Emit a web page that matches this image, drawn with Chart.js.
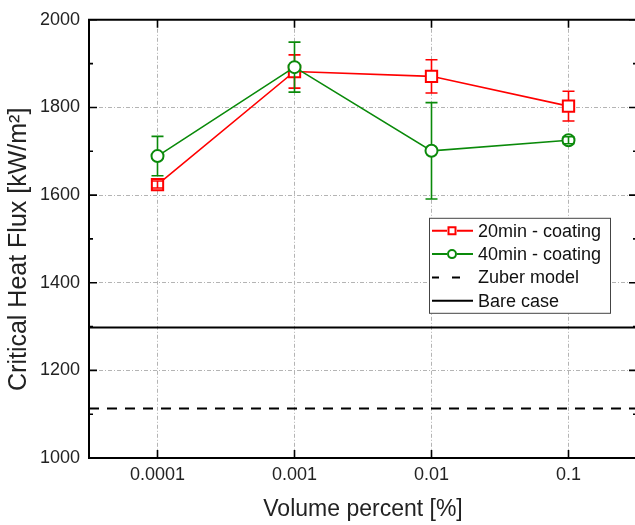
<!DOCTYPE html>
<html>
<head>
<meta charset="utf-8">
<script src="https://cdn.jsdelivr.net/npm/chart.js@4"></script>
<style>
  html, body { margin: 0; padding: 0; background: #fff; overflow: hidden; }
  #wrap { width: 640px; height: 525px; }
</style>
</head>
<body>
<div id="wrap"><canvas id="chf" width="640" height="525"></canvas></div>
<script>
// Volume percent [%] (categories, evenly spaced like a log axis)
const volumes = ['0.0001', '0.001', '0.01', '0.1'];

// Critical heat flux [kW/m2] and error half-widths
const chf20 = [1624, 1882, 1871, 1803];
const err20 = [8, 38, 38, 34];
const chf40 = [1689, 1892, 1701, 1725];
const err40 = [45, 57, 110, 8];

// Horizontal reference values
const zuberCHF = 1113;
const bareCHF = 1298;

const yTicks = [1000, 1200, 1400, 1600, 1800, 2000];
const legendLabels = ['20min - coating', '40min - coating', 'Zuber model', 'Bare case'];

const FONT = '"Liberation Sans", Arial, sans-serif';
const RED = '#ff0000';
const GREEN = '#0a8a0a';

// error bars, drawn right after each dataset
const errorBars = {
  id: 'errorBars',
  afterDatasetDraw(chart, args) {
    const ds = chart.data.datasets[args.index];
    const errs = ds.errs;
    if (!errs) return;
    const { ctx } = chart;
    const y = chart.scales.y;
    const r = ds.markHalf;
    ctx.save();
    ctx.strokeStyle = ds.borderColor;
    ctx.lineWidth = 1.6;
    args.meta.data.forEach((pt, i) => {
      const v = ds.data[i], e = errs[i];
      const yt = y.getPixelForValue(v + e);
      const yb = y.getPixelForValue(v - e);
      ctx.beginPath();
      if (pt.y - yt > r) {
        ctx.moveTo(pt.x, yt); ctx.lineTo(pt.x, pt.y - r);
        ctx.moveTo(pt.x, pt.y + r); ctx.lineTo(pt.x, yb);
      } else {
        ctx.moveTo(pt.x, yt); ctx.lineTo(pt.x, yb);
      }
      ctx.moveTo(pt.x - 6, yt); ctx.lineTo(pt.x + 6, yt);
      ctx.moveTo(pt.x - 6, yb); ctx.lineTo(pt.x + 6, yb);
      ctx.stroke();
    });
    ctx.restore();
  }
};

// Zuber and bare case lines across the whole plot
const refLines = {
  id: 'refLines',
  beforeDatasetsDraw(chart) {
    const { ctx, chartArea: a } = chart;
    const y = chart.scales.y;
    ctx.save();
    ctx.strokeStyle = '#000';
    ctx.lineWidth = 2;
    ctx.setLineDash([10, 8]);
    ctx.beginPath();
    ctx.moveTo(a.left, y.getPixelForValue(zuberCHF));
    ctx.lineTo(a.right, y.getPixelForValue(zuberCHF));
    ctx.stroke();
    ctx.setLineDash([]);
    ctx.beginPath();
    ctx.moveTo(a.left, y.getPixelForValue(bareCHF));
    ctx.lineTo(a.right, y.getPixelForValue(bareCHF));
    ctx.stroke();
    ctx.restore();
  }
};

// frame: top border + inward tick marks (Origin style)
const frame = {
  id: 'frame',
  afterDraw(chart) {
    const { ctx, chartArea: a } = chart;
    const x = chart.scales.x, y = chart.scales.y;
    ctx.save();
    ctx.strokeStyle = '#000';
    ctx.lineWidth = 2;
    ctx.beginPath();
    ctx.moveTo(a.left - 1, a.top); ctx.lineTo(a.right, a.top);
    ctx.stroke();
    ctx.lineWidth = 1.6;
    ctx.beginPath();
    yTicks.forEach((v, i) => {
      const py = y.getPixelForValue(v);
      ctx.moveTo(a.left, py); ctx.lineTo(a.left + 8, py);
      ctx.moveTo(a.right, py); ctx.lineTo(a.right - 8, py);
      if (i < yTicks.length - 1) {
        const pm = y.getPixelForValue(v + 100);
        ctx.moveTo(a.left, pm); ctx.lineTo(a.left + 4, pm);
        ctx.moveTo(a.right, pm); ctx.lineTo(a.right - 4, pm);
      }
    });
    volumes.forEach((_, i) => {
      const px = x.getPixelForValue(i);
      ctx.moveTo(px, a.bottom); ctx.lineTo(px, a.bottom - 8);
      ctx.moveTo(px, a.top); ctx.lineTo(px, a.top + 8);
    });
    ctx.stroke();
    ctx.restore();
  }
};

// boxed legend inside the plot
const boxLegend = {
  id: 'boxLegend',
  afterDraw(chart) {
    const { ctx, chartArea: a } = chart;
    const x0 = a.right - 208, y0 = a.top + 198, w = 181, h = 95;
    ctx.save();
    ctx.fillStyle = '#fff';
    ctx.fillRect(x0, y0, w, h);
    ctx.strokeStyle = '#444';
    ctx.lineWidth = 1;
    ctx.strokeRect(x0 + 0.5, y0 + 0.5, w, h);
    ctx.font = '18px ' + FONT;
    ctx.textBaseline = 'middle';
    legendLabels.forEach((lab, i) => {
      const ry = y0 + 13 + i * 23.3;
      const sx = x0 + 3, ex = x0 + 44, mx = x0 + 23;
      ctx.lineWidth = 2;
      if (i < 2) {
        ctx.strokeStyle = i === 0 ? RED : GREEN;
        ctx.beginPath();
        ctx.moveTo(sx, ry); ctx.lineTo(mx - 5, ry);
        ctx.moveTo(mx + 5, ry); ctx.lineTo(ex, ry);
        ctx.stroke();
        ctx.beginPath();
        if (i === 0) ctx.rect(mx - 3.5, ry - 3.5, 7, 7);
        else ctx.arc(mx, ry, 4, 0, Math.PI * 2);
        ctx.stroke();
      } else {
        ctx.strokeStyle = '#000';
        ctx.beginPath();
        if (i === 2) {
          ctx.moveTo(sx, ry); ctx.lineTo(sx + 7, ry);
          ctx.moveTo(sx + 20, ry); ctx.lineTo(sx + 28, ry);
        } else {
          ctx.moveTo(sx, ry); ctx.lineTo(ex, ry);
        }
        ctx.stroke();
      }
      ctx.fillStyle = '#111';
      ctx.fillText(lab, x0 + 49, ry + 1);
    });
    ctx.restore();
  }
};

const gridDash = [4, 2, 1, 2];
const gridColor = '#b4b4b4';

new Chart(document.getElementById('chf'), {
  type: 'line',
  data: {
    labels: volumes,
    datasets: [
      {
        label: legendLabels[0],
        data: chf20,
        errs: err20,
        markHalf: 6,
        order: 2,
        borderColor: RED,
        borderWidth: 1.6,
        pointStyle: 'rect',
        pointRadius: 8,
        pointBorderWidth: 2,
        pointBackgroundColor: '#fff',
        pointBorderColor: RED,
        tension: 0
      },
      {
        label: legendLabels[1],
        data: chf40,
        errs: err40,
        markHalf: 6,
        order: 1,
        borderColor: GREEN,
        borderWidth: 1.6,
        pointStyle: 'circle',
        pointRadius: 6,
        pointBorderWidth: 2,
        pointBackgroundColor: '#fff',
        pointBorderColor: GREEN,
        tension: 0
      }
    ]
  },
  options: {
    responsive: false,
    animation: false,
    layout: { autoPadding: false, padding: { top: 16, right: 3, left: 0, bottom: 0 } },
    plugins: {
      legend: { display: false },
      tooltip: { enabled: false }
    },
    scales: {
      x: {
        type: 'category',
        offset: true,
        afterFit: s => { s.height = 67; },
        ticks: { font: { family: FONT, size: 18 }, color: '#222', padding: 6 },
        grid: { offset: false, color: gridColor, lineWidth: 1, drawTicks: false },
        border: { display: true, color: '#000', width: 2, dash: gridDash },
        title: {
          display: true,
          text: 'Volume percent [%]',
          font: { family: FONT, size: 23 },
          color: '#222',
          padding: { top: 0, bottom: 2 }
        }
      },
      y: {
        min: 1000,
        max: 2000,
        afterFit: s => { s.width = 89; },
        afterBuildTicks: s => { s.ticks = yTicks.map(v => ({ value: v })); },
        ticks: {
          font: { family: FONT, size: 18 },
          color: '#222',
          padding: 9,
          callback: v => String(v)
        },
        grid: { color: gridColor, lineWidth: 1, drawTicks: false },
        border: { display: true, color: '#000', width: 2, dash: gridDash },
        title: {
          display: true,
          text: 'Critical Heat Flux [kW/m²]   ',
          font: { family: FONT, size: 25 },
          color: '#222',
          padding: { top: 4, bottom: 0 }
        }
      }
    }
  },
  plugins: [refLines, errorBars, frame, boxLegend]
});
</script>
</body>
</html>
